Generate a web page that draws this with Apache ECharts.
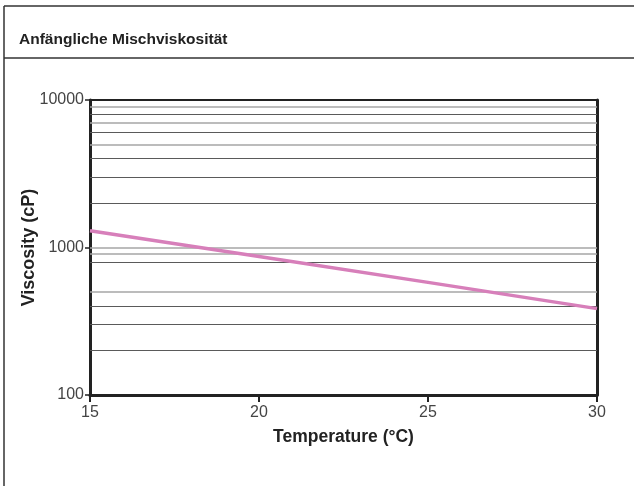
<!DOCTYPE html>
<html>
<head>
<meta charset="utf-8">
<script src="https://cdn.jsdelivr.net/npm/echarts@6/dist/echarts.min.js"></script>
<style>
html,body{margin:0;padding:0;background:#fff;}
#chart{width:634px;height:486px;}
</style>
</head>
<body>
<div id="chart"></div>
<script>
// Data
const temperatures = [15, 20, 25, 30];
const viscosity = [1300, 870, 580, 385];
const xTicks = [15, 20, 25, 30];
const yTicks = [100, 1000, 10000];
const gridValuesDark = [200, 300, 400, 800, 2000, 3000, 4000, 6000, 8000];
const gridValuesLight = [500, 900, 1000, 5000, 7000, 9000];

const chart = echarts.init(document.getElementById('chart'), null, {renderer: 'canvas'});
const fontFam = '"Liberation Sans", Arial, Helvetica, sans-serif';

const markData = gridValuesDark.map(v => ({yAxis: v, lineStyle: {color: '#5a5a5a', width: 1, type: 'solid'}}))
  .concat(gridValuesLight.map(v => ({yAxis: v, lineStyle: {color: '#a6a6a6', width: 1.5, type: 'solid'}})));

const option = {
  backgroundColor: '#fff',
  animation: false,
  title: {
    text: 'Anfängliche Mischviskosität',
    left: 14, top: 27,
    textStyle: {fontFamily: fontFam, fontWeight: 'bold', fontSize: 15.5, color: '#222'}
  },
  graphic: [
    {type: 'line', shape: {x1: 4, y1: 6, x2: 634, y2: 6}, style: {stroke: '#333', lineWidth: 1.5}},
    {type: 'line', shape: {x1: 4, y1: 58, x2: 634, y2: 58}, style: {stroke: '#333', lineWidth: 1.5}},
    {type: 'line', shape: {x1: 4, y1: 6, x2: 4, y2: 486}, style: {stroke: '#333', lineWidth: 1.5}}
  ],
  grid: {left: 90, right: 37, top: 100, bottom: 91},
  xAxis: [{
    type: 'value', min: 15, max: 30, interval: 5,
    name: 'Temperature (°C)', nameLocation: 'middle', nameGap: 33, nameMoveOverlap: false,
    nameTextStyle: {fontFamily: fontFam, fontWeight: 'bold', fontSize: 17.5, color: '#222'},
    axisLine: {show: true, lineStyle: {color: '#222', width: 3}},
    axisTick: {show: true, inside: false, length: 7, lineStyle: {color: '#222', width: 2}},
    axisLabel: {fontFamily: fontFam, fontSize: 16, color: '#444', margin: 10,
      formatter: v => xTicks.includes(v) ? String(v) : ''},
    splitLine: {show: false}
  }, {
    type: 'value', min: 15, max: 30, position: 'top',
    axisLine: {show: true, lineStyle: {color: '#222', width: 2}},
    axisTick: {show: false}, axisLabel: {show: false}, splitLine: {show: false}
  }],
  yAxis: [{
    type: 'log', logBase: 10, min: 100, max: 10000,
    name: 'Viscosity (cP)', nameLocation: 'middle', nameGap: 52, nameRotate: 90, nameMoveOverlap: false,
    nameTextStyle: {fontFamily: fontFam, fontWeight: 'bold', fontSize: 18, color: '#222'},
    axisLine: {show: true, lineStyle: {color: '#222', width: 3}},
    axisTick: {show: true, inside: false, length: 5, lineStyle: {color: '#222', width: 1.5}},
    axisLabel: {fontFamily: fontFam, fontSize: 16, color: '#444', margin: 6,
      formatter: v => yTicks.includes(Math.round(v)) ? String(Math.round(v)) : ''},
    splitLine: {show: false}
  }, {
    type: 'log', logBase: 10, min: 100, max: 10000, position: 'right',
    axisLine: {show: true, lineStyle: {color: '#222', width: 3}},
    axisTick: {show: false}, axisLabel: {show: false}, splitLine: {show: false}
  }],
  series: [{
    type: 'line', xAxisIndex: 0, yAxisIndex: 0,
    data: temperatures.map((t, i) => [t, viscosity[i]]),
    symbol: 'none', z: 5,
    lineStyle: {color: '#d77fba', width: 3.5},
    markLine: {silent: true, symbol: 'none', label: {show: false}, z: 1, animation: false, data: markData}
  }]
};
chart.setOption(option);
</script>
</body>
</html>
